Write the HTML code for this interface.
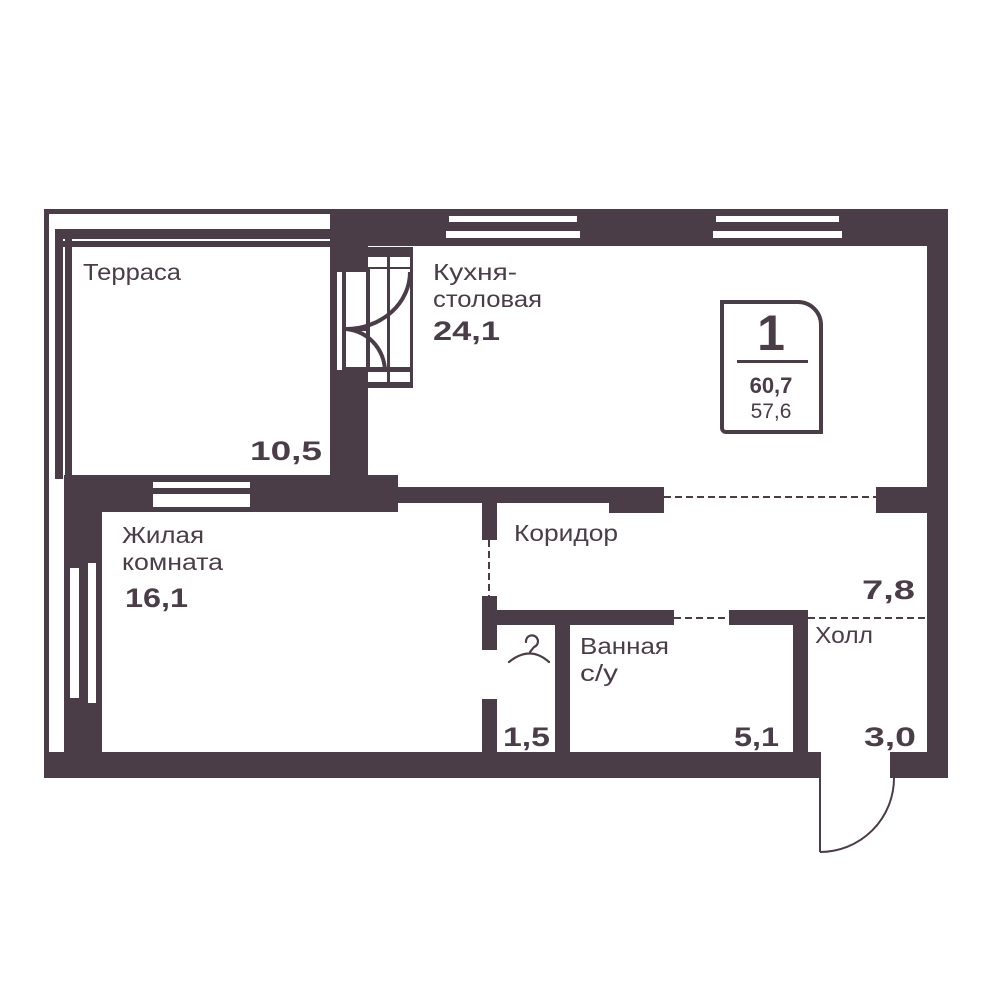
<!DOCTYPE html>
<html><head><meta charset="utf-8"><style>
html,body{margin:0;padding:0;background:#fff;}
svg{display:block}
text{font-family:"Liberation Sans",sans-serif;fill:#4b3d48}
.l{font-size:23px}
.b{font-size:27px;font-weight:bold}
</style></head><body>
<svg width="1000" height="1000" viewBox="0 0 1000 1000">
<g fill="#4b3d48">
<rect x="44" y="209" width="290" height="5"/>
<rect x="44" y="209" width="5" height="569"/>
<rect x="55" y="229" width="275" height="10"/>
<rect x="55" y="241" width="275" height="6"/>
<rect x="55" y="229" width="8" height="250"/>
<rect x="65" y="229" width="7" height="250"/>
<rect x="330" y="209" width="618" height="37"/>
<rect x="330" y="209" width="38" height="281"/>
<rect x="927" y="209" width="21" height="569"/>
<rect x="330" y="475" width="38" height="15"/>
<rect x="368" y="487" width="242" height="16"/>
<rect x="609" y="487" width="55" height="26"/>
<rect x="876" y="487" width="51" height="26"/>
<rect x="64" y="475" width="334" height="37"/>
<rect x="64" y="475" width="38" height="303"/>
<rect x="44" y="752" width="777" height="26"/>
<rect x="890" y="752" width="58" height="26"/>
<rect x="482" y="503" width="15" height="37"/>
<rect x="482" y="596" width="15" height="54"/>
<rect x="482" y="699" width="15" height="53"/>
<rect x="482" y="610" width="192" height="15"/>
<rect x="729" y="610" width="79" height="15"/>
<rect x="555" y="625" width="15" height="127"/>
<rect x="793" y="610" width="15" height="142"/>
<rect x="368" y="247" width="45" height="141"/>
</g>
<g fill="#fff">
<rect x="449" y="216" width="128" height="6"/>
<rect x="446" y="231" width="134" height="7"/>
<rect x="716" y="216" width="123" height="6"/>
<rect x="713" y="231" width="129" height="7"/>
<rect x="153" y="482" width="97" height="6"/>
<rect x="153" y="494" width="97" height="13"/>
<rect x="70" y="568" width="9" height="130"/>
<rect x="88" y="563" width="8" height="140"/>
<rect x="368" y="257" width="19" height="10"/>
<rect x="390" y="257" width="20" height="10"/>
<rect x="370" y="269" width="17" height="98"/>
<rect x="390" y="269" width="20" height="98"/>
<rect x="368" y="372" width="19" height="10"/>
<rect x="390" y="372" width="20" height="10"/>
<rect x="337" y="272" width="5" height="98"/>
<rect x="346" y="272" width="20" height="55"/>
<rect x="346" y="331" width="20" height="36"/>
</g>
<g fill="none" stroke="#4b3d48">
<path d="M346 329 A64 57 0 0 0 410 272" stroke-width="4"/>
<path d="M343 329 A42 43 0 0 1 385 372" stroke-width="4"/>
<line x1="664" y1="497" x2="876" y2="497" stroke-width="2" stroke-dasharray="7,4"/>
<line x1="489" y1="540" x2="489" y2="596" stroke-width="2" stroke-dasharray="7,4"/>
<line x1="674" y1="618" x2="729" y2="618" stroke-width="2" stroke-dasharray="7,4"/>
<line x1="808" y1="618" x2="927" y2="618" stroke-width="2" stroke-dasharray="7,4"/>
<line x1="820" y1="778" x2="820" y2="852" stroke-width="2"/>
<path d="M820 852 A74 74 0 0 0 894 778" stroke-width="2"/>
<path d="M526 642 a6 6 0 1 1 8 5 L530 652 M509 662 Q530 645 549 662" stroke-width="2.2" stroke-linecap="round"/>
<path d="M722 302 H798 A23 23 0 0 1 821 325 V432 H726 A4 4 0 0 1 722 428 Z" stroke-width="4"/>
</g>
<rect x="737" y="360" width="71" height="3" fill="#4b3d48"/>
<text x="771" y="350" text-anchor="middle" style="font-size:50px;font-weight:bold">1</text>
<text x="771" y="393" text-anchor="middle" style="font-size:22px;font-weight:bold">60,7</text>
<text x="771" y="418" text-anchor="middle" style="font-size:21px">57,6</text>

<g lengthAdjust="spacingAndGlyphs">
<text class="l" x="83" y="280" textLength="98" lengthAdjust="spacingAndGlyphs">Терраса</text>
<text class="l" x="433" y="280" textLength="84" lengthAdjust="spacingAndGlyphs">Кухня-</text>
<text class="l" x="433" y="307" textLength="109" lengthAdjust="spacingAndGlyphs">столовая</text>
<text class="b" x="433" y="340" textLength="67" lengthAdjust="spacingAndGlyphs">24,1</text>
<text class="b" x="250" y="460" textLength="72" lengthAdjust="spacingAndGlyphs">10,5</text>
<text class="l" x="122" y="543" textLength="82" lengthAdjust="spacingAndGlyphs">Жилая</text>
<text class="l" x="122" y="570" textLength="101" lengthAdjust="spacingAndGlyphs">комната</text>
<text class="b" x="125" y="607" textLength="63" lengthAdjust="spacingAndGlyphs">16,1</text>
<text class="l" x="514" y="541" textLength="104" lengthAdjust="spacingAndGlyphs">Коридор</text>
<text class="b" x="862" y="599" textLength="53" lengthAdjust="spacingAndGlyphs">7,8</text>
<text class="l" x="815" y="643" textLength="58" lengthAdjust="spacingAndGlyphs">Холл</text>
<text class="l" x="580" y="654" textLength="89" lengthAdjust="spacingAndGlyphs">Ванная</text>
<text class="l" x="580" y="681" textLength="38" lengthAdjust="spacingAndGlyphs">с/у</text>
<text class="b" x="503" y="746" textLength="47" lengthAdjust="spacingAndGlyphs">1,5</text>
<text class="b" x="734" y="746" textLength="45" lengthAdjust="spacingAndGlyphs">5,1</text>
<text class="b" x="864" y="746" textLength="52" lengthAdjust="spacingAndGlyphs">3,0</text>
</g>
</svg>
</body></html>
